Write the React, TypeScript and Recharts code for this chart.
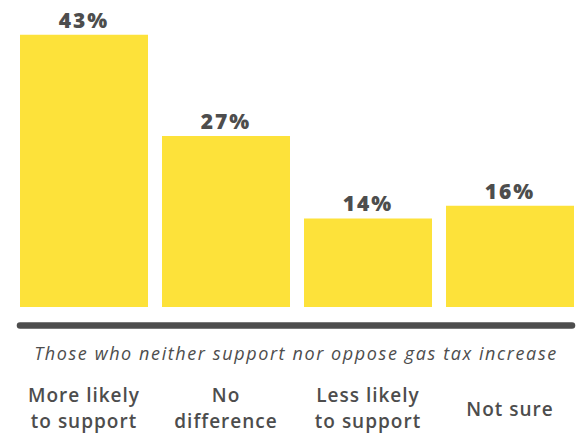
import React from 'react';
import { BarChart, Bar, XAxis, YAxis, LabelList, Label } from 'recharts';

// categories, their two-line tick text, and the share of respondents (%)
const categories = ['More likely to support', 'No difference', 'Less likely to support', 'Not sure'];
const categoryLines = [
  ['More likely', 'to support'],
  ['No', 'difference'],
  ['Less likely', 'to support'],
  ['Not sure'],
];
const shares = [43, 27, 14, 16];
const subtitle = 'Those who neither support nor oppose gas tax increase';

const data = categories.map((name, i) => ({ name, share: shares[i] }));

const INK = '#4d4d4d';
const YELLOW = '#fde23a';
const FONT = '"Open Sans", sans-serif';

const CategoryTick = (props: any) => {
  const { x, y, payload } = props;
  const idx = categories.indexOf(payload.value);
  const lines = categoryLines[idx] || [payload.value];
  const first = lines.length === 1 ? 90.5 : 76;
  return (
    <text x={x} y={y} textAnchor="middle" fill={INK} fontFamily={FONT} fontSize={19} fontWeight={600} letterSpacing={1}>
      {lines.map((l, i) => (
        <tspan key={i} x={x} dy={i === 0 ? first : 26.5}>
          {l}
        </tspan>
      ))}
    </text>
  );
};

const Subtitle = (props: any) => {
  const vb = props.viewBox || { x: 20, y: 325.5, width: 552 };
  return (
    <text
      x={vb.x + vb.width / 2}
      y={vb.y + 34.5}
      textAnchor="middle"
      fill={INK}
      fontFamily={FONT}
      fontStyle="italic"
      fontSize={18}
      letterSpacing={1.6}
    >
      {subtitle}
    </text>
  );
};

export default function App() {
  return (
    <div style={{ position: 'absolute', left: 0, top: 0, width: 579, height: 438, overflow: 'hidden', background: '#fff' }}>
      <BarChart width={579} height={438} data={data} margin={{ top: 22.15, right: 7, bottom: 0, left: 20 }}>
        <YAxis hide type="number" domain={[-2.92, 45]} allowDataOverflow />
        <XAxis
          dataKey="name"
          interval={0}
          height={112.5}
          padding={{ left: -7, right: -9 }}
          axisLine={{ stroke: INK, strokeWidth: 6.5, strokeLinecap: 'round' }}
          tickLine={false}
          tickSize={0}
          tickMargin={0}
          tick={<CategoryTick />}
        >
          <Label position="insideTop" content={<Subtitle />} />
        </XAxis>
        <Bar dataKey="share" fill={YELLOW} barSize={128} isAnimationActive={false}>
          <LabelList
            dataKey="share"
            position="top"
            offset={7}
            formatter={(v: any) => `${v}%`}
            fill={INK}
            fontFamily={FONT}
            fontSize={21}
            fontWeight={800}
            letterSpacing={2}
          />
        </Bar>
      </BarChart>
    </div>
  );
}
